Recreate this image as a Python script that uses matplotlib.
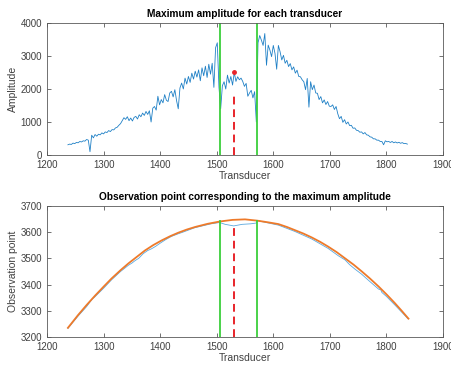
import numpy as np
import matplotlib
matplotlib.use("Agg")
import matplotlib.pyplot as plt

plt.rcParams['font.family'] = ['Liberation Sans', 'DejaVu Sans']

# ---- data: maximum amplitude per transducer (step 3 from 1237) ----
amplitude = [
    310, 330, 320, 360, 345, 380, 370, 410, 395, 430, 420, 470, 450,          # 1237-1273
    100, 600, 520, 620, 570, 630, 610, 670, 640,                              # 1276-1300
    700, 680, 740, 710, 770, 760, 820, 840, 900, 950, 1040, 1130, 1080, 1160,  # 1303-1342
    1040, 1120, 1030, 1140, 1170, 1090, 1220, 1160, 1270, 1200, 1320, 1230,    # 1345-1378
    1340, 1000, 1420, 1470, 1360, 1780, 1520, 1680, 1580, 1830, 1660, 1620,    # 1381-1414
    1880, 1930, 1760, 1980, 1650, 1400, 2030, 2180, 2000, 2330, 2150, 2380,    # 1417-1450
    2200, 2480, 2300, 2540, 2360, 2580, 2250, 2640, 2400, 2690, 2350, 2750,    # 1453-1486
    2450, 2780, 2050, 3250, 3400, 2050,                                        # 1489-1504
    1400, 2100, 2220, 2000, 2420, 2180, 2380, 2120, 2500, 2230, 2370, 2280,    # 1507-1540
    2330, 2230, 2080, 2170, 1780, 1880, 1960, 1730, 1920, 1000,                # 1543-1570
    3400, 3620, 3480, 3320, 3680, 2720, 3330, 3180, 2980, 3320, 3080, 2600,    # 1573-1606
    3320, 3130, 2880, 3020, 2780, 2870, 2680, 2770, 2580, 2670, 2480, 2570,    # 1609-1642
    2380, 2370, 2280, 2220, 1980, 2320, 1450, 2220, 1980, 2120, 1880, 1870,    # 1645-1678
    1680, 1770, 1580, 1670, 1530, 1620, 1480, 1470, 1520, 1380, 1470, 1250,    # 1681-1714
    1100, 1170, 990, 1070, 940, 1000, 890, 900, 810, 820, 750, 740,            # 1717-1750
    690, 700, 640, 680, 610, 600, 550, 540, 490, 490, 450, 450,                # 1753-1786
    410, 410, 310, 430, 400, 410, 380, 410, 370, 395, 365, 385,                # 1789-1822
    355, 375, 345, 350, 330,                                                   # 1825-1837
]
transducer = np.arange(1237, 1237 + 3 * len(amplitude), 3)

# ---- observation point: measured (blue) and fitted (orange) ----
obs_x = [1237, 1255, 1270, 1280, 1284, 1300, 1314, 1330, 1344, 1350, 1356, 1362,
         1370, 1378, 1385, 1392, 1400, 1410, 1420, 1432, 1440, 1461, 1490, 1505,
         1515, 1530, 1545, 1560, 1570, 1572, 1609, 1638, 1668, 1697, 1715, 1727,
         1735, 1745, 1756, 1770, 1786, 1790, 1792, 1800, 1815, 1838]
obs_y = [3233, 3280, 3316, 3345, 3352, 3386, 3418, 3450, 3474, 3482, 3492, 3500,
         3518, 3530, 3537, 3546, 3558, 3572, 3584, 3594, 3600, 3617, 3632, 3637,
         3630, 3624, 3630, 3632, 3635, 3644, 3627, 3603, 3574, 3538, 3510, 3494,
         3476, 3458, 3440, 3413, 3383, 3380, 3370, 3355, 3322, 3270]
fit_x = [1237, 1255, 1270, 1285, 1300, 1314, 1330, 1344, 1360, 1373, 1388, 1403,
         1418, 1432, 1447, 1462, 1484, 1506, 1528, 1550, 1572, 1590, 1609, 1624,
         1638, 1653, 1668, 1683, 1697, 1712, 1727, 1742, 1756, 1771, 1786, 1800,
         1815, 1827, 1839]
fit_y = [3235, 3284, 3322, 3358, 3392, 3423, 3455, 3481, 3508, 3530, 3551, 3569,
         3585, 3598, 3610, 3620, 3632, 3641, 3647, 3649, 3644, 3638, 3631, 3620,
         3608, 3595, 3580, 3563, 3545, 3524, 3500, 3476, 3451, 3423, 3393, 3363,
         3329, 3300, 3270]

green_bounds = [1505, 1571]
peak_x = 1531
peak_amp = 2520
dash_top = 1820

BLUE = '#1f80c6'
BLUE_LIGHT = '#5aa8de'
ORANGE = '#EE7A2A'
GREEN = '#3CCF3C'
RED = '#E8242A'
TXT = '#404040'

W, H = 451, 367
fig = plt.figure(figsize=(W / 100, H / 100), dpi=100)
ax1 = fig.add_axes([47 / W, 1 - 155 / H, 396 / W, 132 / H])
ax2 = fig.add_axes([47 / W, 1 - 337 / H, 396 / W, 131 / H])

def style(ax):
    for s in ax.spines.values():
        s.set_color('#5a5a5a')
        s.set_linewidth(0.6)
    ax.tick_params(direction='in', length=3, width=0.6, colors='#5a5a5a',
                   labelcolor=TXT, labelsize=7, top=True, right=True,
                   labeltop=False, labelright=False)
    ax.set_xlim(1200, 1900)
    ax.set_xticks(np.arange(1200, 1901, 100))

# top
ax1.plot(transducer, amplitude, color=BLUE, lw=0.6)
for g in green_bounds:
    ax1.plot([g, g], [0, 4000], color=GREEN, lw=1.3)
ax1.plot([peak_x, peak_x], [0, dash_top], color=RED, lw=1.4, dashes=(4, 2.5))
ax1.plot([peak_x], [peak_amp], 'o', color=RED, ms=2.5)
ax1.set_ylim(0, 4000)
ax1.set_yticks(np.arange(0, 4001, 1000))
style(ax1)
ax1.set_title('Maximum amplitude for each transducer', fontsize=7.3,
              fontweight='bold', pad=4, color='black')
ax1.set_xlabel('Transducer', fontsize=7.5, color=TXT, labelpad=1)
ax1.set_ylabel('Amplitude', fontsize=7.5, color=TXT, labelpad=2)

# bottom
ax2.plot(obs_x, obs_y, color=BLUE_LIGHT, lw=0.6)
ax2.plot(fit_x, fit_y, color=ORANGE, lw=1.3)
for g in green_bounds:
    ax2.plot([g, g], [3200, 3643], color=GREEN, lw=1.3)
ax2.plot([peak_x, peak_x], [3200, 3620], color=RED, lw=1.4, dashes=(4, 2.5))
ax2.set_ylim(3200, 3700)
ax2.set_yticks(np.arange(3200, 3701, 100))
style(ax2)
ax2.set_title('Observation point corresponding to the maximum amplitude',
              fontsize=7.3, fontweight='bold', pad=4, color='black')
ax2.set_xlabel('Transducer', fontsize=7.5, color=TXT, labelpad=1)
ax2.set_ylabel('Observation point', fontsize=7.5, color=TXT, labelpad=2)

fig.savefig('out.png', dpi=100)
